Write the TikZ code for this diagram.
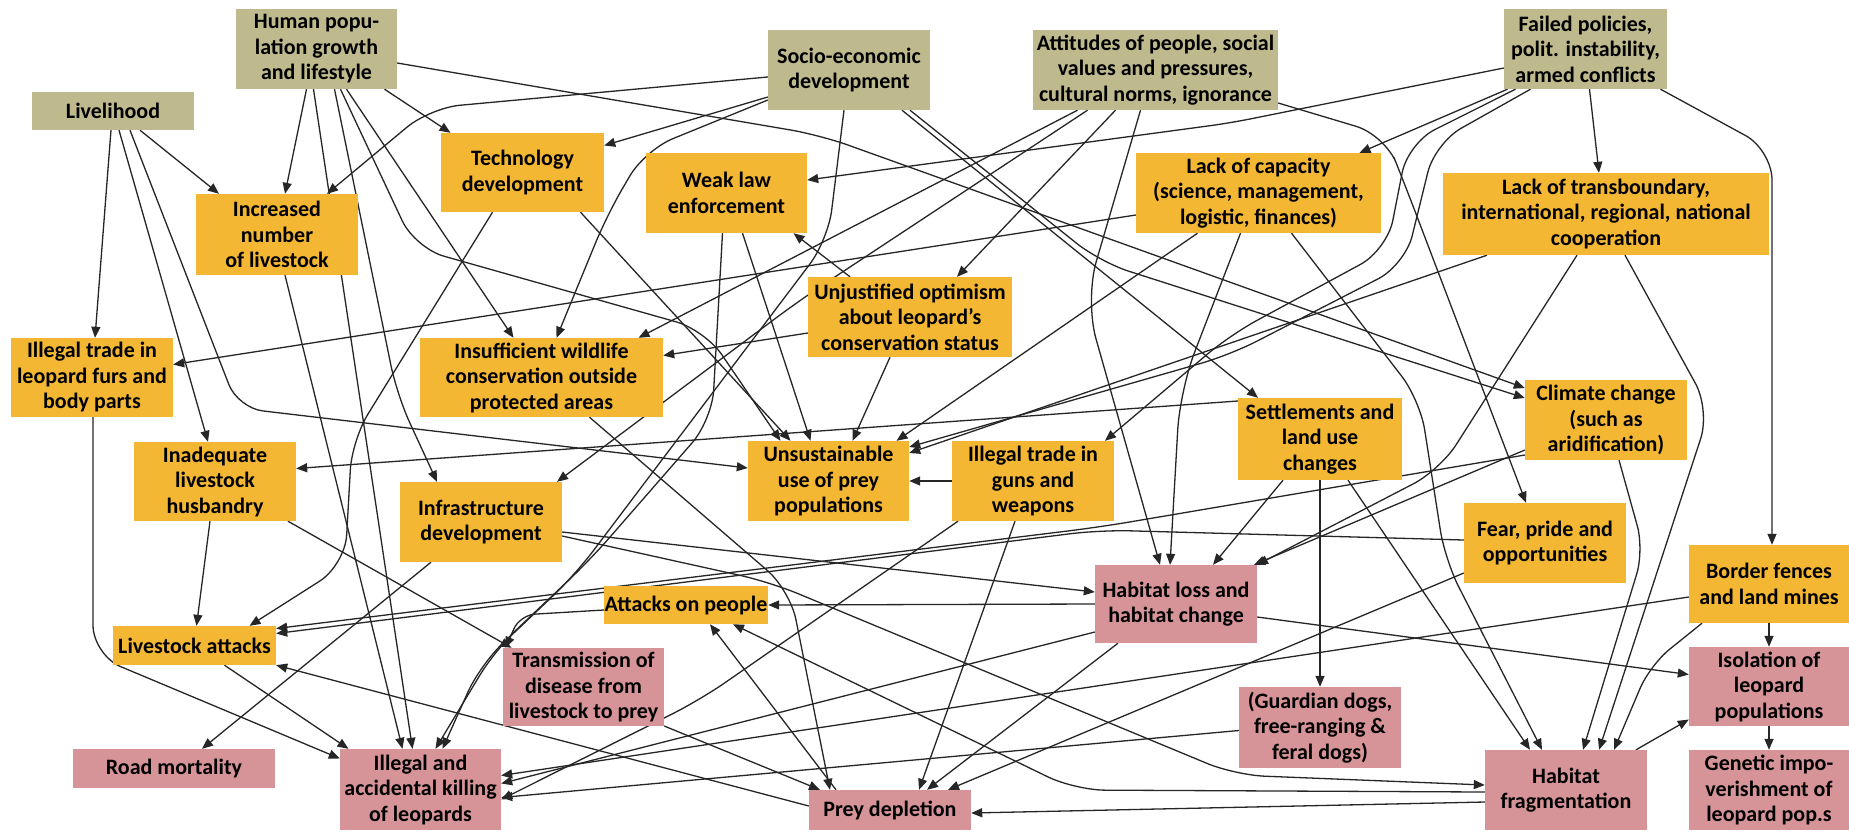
\documentclass[tikz,border=0pt]{standalone}
\usepackage{fontspec}
\setmainfont{Carlito}
\usetikzlibrary{arrows.meta}
\pgfdeclarelayer{bg}
\pgfdeclarelayer{edges}
\pgfsetlayers{bg,edges,main}
\definecolor{causeolive}{RGB}{190,186,141}
\definecolor{threatgold}{RGB}{243,183,52}
\definecolor{impactpink}{RGB}{214,148,152}
\newcommand{\threatbox}[7]{
    \node[#1, minimum width=#5pt, minimum height=#6pt] (#2) at (#3,#4) {#7};
}

\begin{document}
\begin{tikzpicture}[x=1pt, y=-1pt,
    box/.style={inner sep=0pt, align=center, text=black, font=\bfseries\fontsize{22}{25.5}\selectfont},
    cause/.style={box, fill=causeolive},
    threat/.style={box, fill=threatgold},
    impact/.style={box, fill=impactpink},
    link/.style={draw=black!85, line width=1.3pt, -{Triangle[length=11pt, width=9pt]}}]
    \useasboundingbox (0,0) rectangle (1849,831);
    \begin{pgfonlayer}{bg}
        \fill[white] (0,0) rectangle (1849,831);
    \end{pgfonlayer}

    \threatbox{cause}{HP}{316.5}{49}{161}{80}{Human popu-\\lation growth\\and lifestyle}
    \threatbox{cause}{LV}{113}{111}{162}{38}{Livelihood}
    \threatbox{cause}{SE}{849}{70}{162}{80}{Socio-economic\\development}
    \threatbox{cause}{AT}{1155.5}{70}{245}{80}{Attitudes of people, social\\values and pressures,\\cultural norms, ignorance}
    \threatbox{cause}{FP}{1585.5}{49}{163}{80}{Failed policies,\\polit. instability,\\armed conflicts}
    \threatbox{threat}{TD}{522.5}{172.5}{163}{79}{Technology\\development}
    \threatbox{threat}{IL}{277}{234.5}{162}{81}{Increased\\number\\of livestock}
    \threatbox{threat}{WL}{726.5}{193}{161}{80}{Weak law\\enforcement}
    \threatbox{threat}{LC}{1258.5}{193}{245}{80}{Lack of capacity\\(science, management,\\logistic, finances)}
    \threatbox{threat}{LT}{1606}{214}{326}{82}{Lack of transboundary,\\international, regional, national\\cooperation}
    \threatbox{threat}{UO}{910}{317}{204}{80}{Unjustified optimism\\about leopard’s\\conservation status}
    \threatbox{threat}{IF}{92}{377.5}{162}{79}{Illegal trade in\\leopard furs and\\body parts}
    \threatbox{threat}{IW}{541.5}{377.5}{243}{79}{Insufficient wildlife\\conservation outside\\protected areas}
    \threatbox{threat}{CC}{1606}{420}{162}{80}{Climate change\\(such as\\aridification)}
    \threatbox{threat}{SL}{1320}{439}{164}{82}{Settlements and\\land use\\changes}
    \threatbox{threat}{IH}{215}{481.5}{162}{79}{Inadequate\\livestock\\husbandry}
    \threatbox{threat}{UU}{828.5}{481}{161}{80}{Unsustainable\\use of prey\\populations}
    \threatbox{threat}{IG}{1033}{481}{162}{80}{Illegal trade in\\guns and\\weapons}
    \threatbox{threat}{ID}{481}{522}{162}{80}{Infrastructure\\development}
    \threatbox{threat}{FO}{1545}{543}{162}{80}{Fear, pride and\\opportunities}
    \threatbox{threat}{BF}{1769}{584}{160}{78}{Border fences\\and land mines}
    \threatbox{impact}{HL}{1176}{604}{162}{78}{Habitat loss and\\habitat change}
    \threatbox{threat}{AP}{686}{605}{164}{38}{Attacks on people}
    \threatbox{threat}{LA}{194.5}{645.5}{163}{39}{Livestock attacks}
    \threatbox{impact}{TR}{583.5}{687}{161}{78}{Transmission of\\disease from\\livestock to prey}
    \threatbox{impact}{IS}{1769}{686.5}{160}{79}{Isolation of\\leopard\\populations}
    \threatbox{impact}{GD}{1320}{727.5}{162}{81}{(Guardian dogs,\\free-ranging \&\\feral dogs)}
    \threatbox{impact}{RM}{174}{768.5}{202}{39}{Road mortality}
    \threatbox{impact}{IK}{420.5}{789.5}{161}{81}{Illegal and\\accidental killing\\of leopards}
    \threatbox{impact}{PD}{890}{810}{162}{40}{Prey depletion}
    \threatbox{impact}{HF}{1566}{790}{162}{80}{Habitat\\fragmentation}
    \threatbox{impact}{GI}{1769}{790}{160}{80}{Genetic impo-\\verishment of\\leopard pop.s}

    \begin{pgfonlayer}{edges}
    \draw[link] ([xshift=-2]LV.south) -- ([xshift=3]IF.north);
    \draw[link] ([xshift=27]LV.south) -- ([xshift=-58]IL.north);
    \draw[link] ([xshift=6]LV.south) -- ([xshift=-7]IH.north);
    \draw[link, rounded corners=25] ([xshift=17]LV.south) -- (238,408) -- ([yshift=13]UU.west);

    \draw[link] ([xshift=-10]HP.south) -- ([xshift=8]IL.north);
    \draw[link] ([xshift=68]HP.south) -- ([xshift=-72]TD.north);
    \draw[link] ([xshift=30]HP.south) -- ([xshift=-28]IW.north);
    \draw[link, rounded corners=30] ([xshift=18]HP.south) -- (397,395) -- ([xshift=-44]ID.north);
    \draw[link, rounded corners=30] ([xshift=24]HP.south) -- (415,248) -- (705,330) -- ([xshift=-48]UU.north);
    \draw[link] ([xshift=-3]HP.south) -- ([xshift=-8]IK.north);
    \draw[link, rounded corners=30] ([yshift=-14]HP.east) -- (820,135) -- ([yshift=32]CC.west);

    \draw[link, rounded corners=30] ([yshift=-7]SE.west) -- (430,108) -- ([xshift=50]IL.north);
    \draw[link] ([yshift=-27]SE.west) -- ([yshift=27]TD.east);
    \draw[link, rounded corners=30] ([yshift=-30]SE.west) -- (645,150) -- (607,215) -- ([xshift=15]IW.north);
    \draw[link] ([xshift=53]SE.south) -- ([xshift=-62]SL.north);
    \draw[link, rounded corners=30] ([xshift=61]SE.south) -- (1100,262) -- ([yshift=22]CC.west);
    \draw[link, rounded corners=30] ([xshift=-5]SE.south) -- (828,240) -- (575,575) -- (480,665) -- ([xshift=22]IK.north);

    \draw[link] ([xshift=-40]AT.south) -- ([xshift=47]UO.north);
    \draw[link] ([xshift=-78]AT.south) -- ([xshift=97]IW.north);
    \draw[link, rounded corners=30] ([xshift=-68]AT.south) -- (800,300) -- ([xshift=76]ID.north);
    \draw[link, rounded corners=40] ([xshift=-15]AT.south) -- (1085,300) -- ([xshift=-16]HL.north);
    \draw[link, rounded corners=30] ([yshift=-33]AT.east) -- (1385,135) -- (1405,185) -- ([xshift=-19]FO.north);

    \draw[link, rounded corners=20] ([yshift=-19]FP.west) -- (1230,123) -- ([yshift=13]WL.east);
    \draw[link] ([xshift=-78]FP.south) -- ([xshift=101]LC.north);
    \draw[link] ([xshift=4]FP.south) -- ([xshift=-7]LT.north);
    \draw[link, rounded corners=30] ([xshift=75]FP.south) -- (1772,150) -- ([xshift=3]BF.north);
    \draw[link, rounded corners=30] ([xshift=-70]FP.south) -- (1408,143) -- (1387,250) -- (1230,335) -- ([xshift=72]IG.north);
    \draw[link, rounded corners=30] ([xshift=-55]FP.south) -- (1435,143) -- (1405,265) -- (1230,355) -- ([yshift=34]UU.east);

    \draw[link] ([yshift=-22]LC.west) -- ([yshift=13]IF.east);
    \draw[link] ([xshift=-61]LC.south) -- ([xshift=68]UU.north);
    \draw[link, rounded corners=40] ([xshift=-18]LC.south) -- (1180,390) -- ([xshift=-6]HL.north);
    \draw[link, rounded corners=30] ([xshift=33]LC.south) -- (1420,400) -- (1445,560) -- ([xshift=-24]HF.north);

    \draw[link] ([xshift=-119]LT.south) -- ([yshift=28]UU.east);
    \draw[link, rounded corners=30] ([xshift=-29]LT.south) -- (1440,470) -- ([xshift=81]HL.north);
    \draw[link, rounded corners=30] ([xshift=19]LT.south) -- (1710,410) -- ([xshift=33]HF.north);

    \draw[link, rounded corners=30] ([yshift=-35]CC.west) -- (1100,527) -- ([yshift=17]LA.east);
    \draw[link] ([yshift=-30]CC.west) -- ([xshift=78]HL.north);
    \draw[link, rounded corners=25] ([xshift=13]CC.south) -- (1644,550) -- ([xshift=17]HF.north);

    \draw[link] ([xshift=-60]UO.north) -- ([xshift=67]WL.south);
    \draw[link] ([yshift=-16]UO.west) -- ([yshift=22]IW.east);
    \draw[link] ([xshift=-20]UO.south) -- ([xshift=24]UU.north);

    \draw[link] ([xshift=58]TD.south) -- ([xshift=-38]UU.north);
    \draw[link, rounded corners=30] ([xshift=-30]TD.south) -- (352,440) -- (345,565) -- ([xshift=55]LA.north);

    \draw[link] ([xshift=16]WL.south) -- ([xshift=-18]UU.north);
    \draw[link, rounded corners=30] ([xshift=-4]WL.south) -- (712,420) -- (590,560) -- (495,650) -- ([xshift=15]IK.north);

    \draw[link] ([xshift=8]IL.south) -- ([xshift=-18]IK.north);
    \draw[link] ([xshift=-5]IH.south) -- ([xshift=2]LA.north);
    \draw[link] ([xshift=73]IH.south) -- ([xshift=-72]TR.north);

    \draw[link, rounded corners=30] ([xshift=48]IW.south) -- (790,590) -- ([xshift=-60]PD.north);

    \draw[link] ([xshift=-50]ID.south) -- ([xshift=28]RM.north);
    \draw[link] ([yshift=-10]ID.east) -- ([yshift=12]HL.west);
    \draw[link, rounded corners=30] ([yshift=-14]ID.east) -- (770,582) -- (1235,775) -- ([yshift=5]HF.west);

    \draw[link] (HL.west) -- (AP.east);
    \draw[link] ([xshift=-58]HL.south) -- ([xshift=37]PD.north);
    \draw[link] ([yshift=-13]HL.east) -- ([yshift=12]IS.west);
    \draw[link] ([yshift=-28]HL.west) -- ([yshift=6]IK.east);
    \draw[link, rounded corners=15] ([yshift=-5]AP.west) -- (520,615) -- ([xshift=-78]TR.north);

    \draw[link] ([yshift=-3]GD.west) -- ([yshift=-8]IK.east);
    \draw[link] (BF.south) -- (IS.north);
    \draw[link] ([yshift=-13]BF.west) -- ([yshift=14]IK.east);
    \draw[link, rounded corners=25] ([xshift=-67]BF.south) -- (1650,665) -- ([xshift=48]HF.north);
    \draw[link] (IS.south) -- (GI.north);
    \draw[link] ([xshift=70]HF.north) -- ([yshift=-33]IS.west);
    \draw[link] ([yshift=-12]HF.west) -- ([yshift=-3]PD.east);
    \draw[link, rounded corners=30] ([yshift=-2]HF.west) -- (1075,790) -- ([xshift=47]AP.south);

    \draw[link] ([xshift=-54]PD.north) -- ([xshift=24]AP.south);
    \draw[link] ([yshift=4]PD.west) -- (LA.south east);
    \draw[link] ([yshift=-39]TR.east) -- ([xshift=-70]PD.north);

    \draw[link] (SL.south) -- (GD.north);
    \draw[link] ([xshift=-37]SL.south) -- ([xshift=37]HL.north);
    \draw[link] ([xshift=28]SL.south) -- ([xshift=-36]HF.north);
    \draw[link] ([yshift=38]SL.west) -- ([yshift=13]IH.east);

    \draw[link] ([yshift=-30]FO.west) -- ([xshift=58]PD.north);
    \draw[link, rounded corners=30] ([yshift=3]FO.west) -- (1100,530) -- ([yshift=12]LA.east);
    \draw[link, rounded corners=30] ([xshift=-75]IG.south) -- (700,700) -- ([yshift=-10]IK.east);
    \draw[link] ([xshift=-18]IG.south) -- ([xshift=29]PD.north);
    \draw[link] (IG.west) -- (UU.east);
    \draw[link, rounded corners=30] ([xshift=1]IF.south) -- (93,655) -- ([yshift=31]IK.west);
    \draw[link] ([xshift=30]LA.south) -- ([xshift=-72]IK.north);
    \end{pgfonlayer}
\end{tikzpicture}
\end{document}
